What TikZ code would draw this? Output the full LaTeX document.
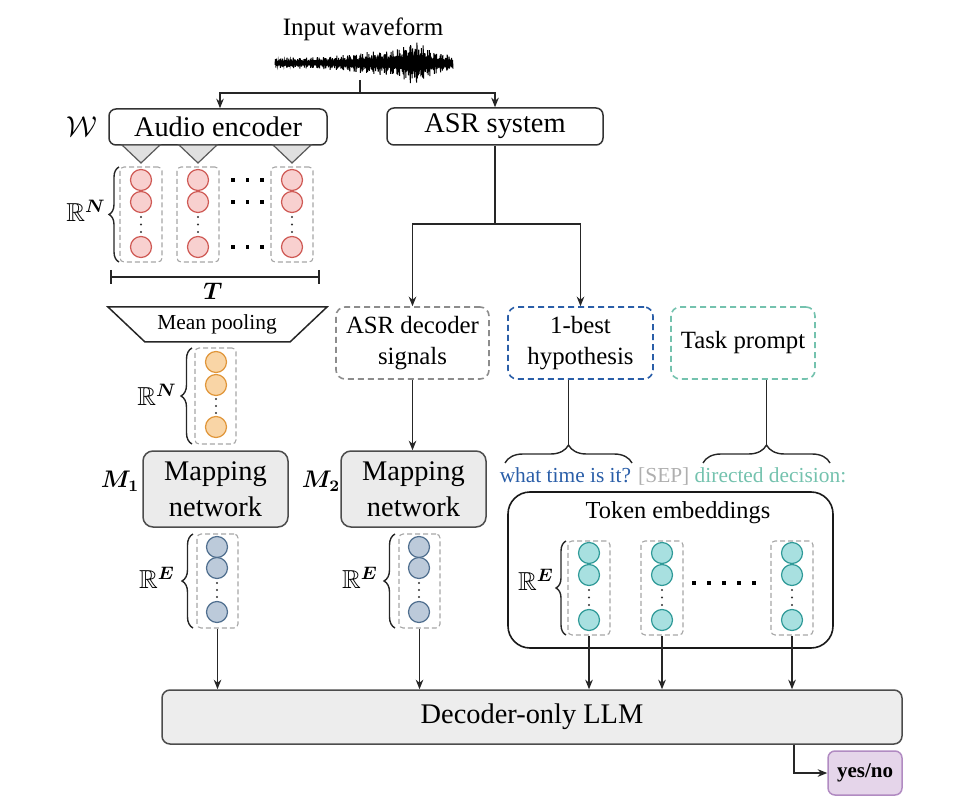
\documentclass[tikz,border=0pt]{standalone}
\usepackage{amsmath,amssymb}
\usepackage{fontspec}
\setmainfont{Liberation Serif}
\usetikzlibrary{arrows.meta,decorations.pathreplacing,fit,calc}
\definecolor{encD}{HTML}{CF5A55}
\definecolor{encF}{HTML}{F8D0CF}
\definecolor{orD}{HTML}{E0963A}
\definecolor{orF}{HTML}{F9D5A6}
\definecolor{blD}{HTML}{506F8F}
\definecolor{blF}{HTML}{BCCADA}
\definecolor{tlD}{HTML}{2F9A98}
\definecolor{tlF}{HTML}{A8E0E0}
\definecolor{hypblue}{HTML}{2A5EA8}
\definecolor{tealc}{HTML}{74C2AE}
\definecolor{sepgray}{HTML}{AFAFAF}
\definecolor{ynF}{HTML}{E5D5EA}
\definecolor{ynD}{HTML}{B18BC2}
\newcommand{\szA}{\fontsize{14.2}{18}\selectfont}
\newcommand{\szB}{\fontsize{12.4}{15.5}\selectfont}
\newcommand{\szIn}{\fontsize{12.5}{15}\selectfont}
\newcommand{\szD}{\fontsize{12.2}{15}\selectfont}
\newcommand{\szC}{\fontsize{10.7}{13}\selectfont}
\newcommand{\szE}{\fontsize{10.5}{13}\selectfont}
\newcommand{\szR}{\fontsize{13}{15}\selectfont}
\newcommand{\szM}{\fontsize{12}{14}\selectfont}
\newcommand{\szW}{\fontsize{15}{17}\selectfont}
\begin{document}
\begin{tikzpicture}[x=0.5pt,y=-0.5pt,
  conn/.style={draw=black!85,line width=0.7pt},
  arr/.style={conn,-{Stealth[length=4.8pt,width=3.8pt]}},
  plainbox/.style={draw=black!80,line width=0.75pt,rounded corners=3.5pt,inner sep=0pt,fill=white},
  mapbox/.style={draw=black!70,line width=0.75pt,rounded corners=5pt,fill=black!8,inner sep=0pt,align=center,minimum width=72.5pt,minimum height=38pt},
  dbox/.style={dash pattern=on 3pt off 2pt,line width=0.8pt,rounded corners=4.5pt,inner sep=0pt,align=center,minimum height=36pt},
  colbox/.style={draw=black!35,dash pattern=on 2.5pt off 1.5pt,line width=0.55pt,rounded corners=2pt,inner sep=0pt},
  cc/.style={circle,line width=0.6pt,minimum size=10.5pt,inner sep=0pt},
  encc/.style={cc,draw=encD,fill=encF},
  orc/.style={cc,draw=orD,fill=orF},
  blc/.style={cc,draw=blD,fill=blF},
  tlc/.style={cc,draw=tlD,fill=tlF},
  vdot/.style={circle,fill=black!80,inner sep=0pt,minimum size=1.1pt},
  hdot/.style={rectangle,fill=black,inner sep=0pt,minimum size=1.8pt},
  brc/.style={decorate,decoration={brace,amplitude=#1},conn},
  tri/.style={fill=black!12,draw=black!65,line width=0.6pt},
]
\useasboundingbox (0,0) rectangle (962,806);

% ---------- input waveform ----------
\node[font=\szIn] (inp) at (363,29) {Input waveform};
\draw[line width=0.5pt] plot[samples=401, domain=0:400, variable=\t]
  ({275+0.445*\t},{63 + (1-2*mod(round(\t),2))*(4.5 + 15/(1+((0.445*\t-140)/17)^2) + 5/(1+((0.445*\t-95)/30)^2))*(0.35+0.65*abs(sin(\t*37)*cos(\t*13)))});
\coordinate (wf) at (360,80);
\coordinate (sp1) at (360,93);

% ---------- top boxes ----------
\node[plainbox, minimum width=109pt, minimum height=18pt, font=\szA] (ae) at (218,127) {Audio encoder};
\node[plainbox, minimum width=108pt, minimum height=18.5pt, font=\szA] (asr) at (495,126.5) {ASR system};
\node[font=\szW] (wlab) at (82,127) {$\mathcal{W}$};

\draw[conn] (wf) -- (sp1);
\draw[arr] (sp1) -| ([xshift=1pt]ae.north);
\draw[arr] (sp1) -| (asr.north);

% ---------- encoder outputs ----------
\foreach \x [count=\i] in {141,198,292}{
  \draw[tri] (\x-19,145) -- (\x+19,145) -- (\x,163) -- cycle;
  \node[colbox, fit={(\x-21,167)(\x+21,262)}] (ec\i) {};
  \foreach \y [count=\j] in {180,202,247} \node[encc] (e\i\j) at (\x,\y) {};
  \foreach \y [count=\k] in {217,224.5,232} \node[vdot] (ev\i\k) at (\x,\y) {};
}
\foreach \y [count=\j] in {180,202,247}
  \foreach \x [count=\k] in {233,247.5,262} \node[hdot] (eh\j\k) at (\x,\y) {};
\draw[brc=5pt] (119,262) -- (119,167);
\node[font=\szR] (rn1) at (86,211) {$\mathbb{R}^{\boldsymbol{N}}$};

\coordinate (tl) at (111,277);
\coordinate (tr) at (319,277);
\draw[conn] (tl) -- (tr);
\draw[conn] ([yshift=3.5pt]tl) -- ([yshift=-3.5pt]tl);
\draw[conn] ([yshift=3.5pt]tr) -- ([yshift=-3.5pt]tr);
\node[font=\szM] (tlab) at (213,291) {$\boldsymbol{T}$};

% ---------- mean pooling ----------
\draw[conn,fill=white,line width=0.75pt] (108,307) -- (327,307) -- (290,342) -- (145,342) -- cycle;
\node[font=\szC] (mp) at (217,324) {Mean pooling};

\node[colbox, fit={(195,348)(236,444)}] (oc) {};
\foreach \y [count=\j] in {362,385,427} \node[orc] (o\j) at (216,\y) {};
\foreach \y [count=\k] in {399,406,413} \node[vdot] (ov\k) at (216,\y) {};
\draw[brc=5.5pt] (192,444) -- (192,348);
\node[font=\szR] (rn2) at (157,395) {$\mathbb{R}^{\boldsymbol{N}}$};

% ---------- mapping networks ----------
\node[mapbox, font=\szA] (map1) at (215.5,489) {Mapping\\network};
\node[mapbox, font=\szA] (map2) at (413.5,489) {Mapping\\network};
\node[font=\szM] (m1) at (120,481) {$\boldsymbol{M_1}$};
\node[font=\szM] (m2) at (321,481) {$\boldsymbol{M_2}$};

\foreach \x/\bx/\lx [count=\i] in {217/193/157,419/395/360}{
  \node[colbox, fit={(\x-20,534)(\x+21,628)}] (bc\i) {};
  \foreach \y [count=\j] in {547,568,612} \node[blc] (b\i\j) at (\x,\y) {};
  \foreach \y [count=\k] in {583,590,597} \node[vdot] (bv\i\k) at (\x,\y) {};
  \draw[brc=5.5pt] (\bx,628) -- (\bx,534);
  \node[font=\szR] (re\i) at (\lx,578) {$\mathbb{R}^{\boldsymbol{E}}$};
}

% ---------- ASR outputs ----------
\node[dbox, draw=black!45, minimum width=76.5pt, font=\szB] (dec) at (412.5,343) {ASR decoder\\signals};
\node[dbox, draw=hypblue, minimum width=72.5pt, font=\szB] (best) at (580.5,343) {1-best\\hypothesis};
\node[dbox, draw=tealc, minimum width=72pt, font=\szB] (task) at (743,343) {Task prompt};

\coordinate (sp2) at (495,224);
\draw[conn] (asr.south) -- (sp2);
\draw[arr] (sp2) -| (dec.north);
\draw[arr] (sp2) -| (best.north);
\draw[arr] (dec.south) -- (dec.south |- map2.north);

\coordinate (b1tip) at (568.5,445);
\coordinate (b2tip) at (766.5,445);
\draw[brc=9pt] (505,463) -- (632,463);
\draw[brc=9pt] (703,463) -- (830,463);
\draw[conn] (b1tip) -- (b1tip |- best.south);
\draw[conn] (b2tip) -- (b2tip |- task.south);

\node[font=\szC] (toks) at (673,477) {\textcolor{hypblue}{what time is it?} \textcolor{sepgray}{[SEP]} \textcolor{tealc}{directed decision:}};

% ---------- token embeddings ----------
\node[draw=black!90, line width=0.8pt, rounded corners=11pt, inner sep=0pt, fit={(508,492)(833,648)}] (tokbox) {};
\node[font=\szD] (toklab) at (678,513) {Token embeddings};
\foreach \x [count=\i] in {589,662,792}{
  \node[colbox, fit={(\x-21,541)(\x+21,635)}] (tc\i) {};
  \foreach \y [count=\j] in {553,575,620} \node[tlc] (t\i\j) at (\x,\y) {};
  \foreach \y [count=\k] in {590,597.5,605} \node[vdot] (tv\i\k) at (\x,\y) {};
}
\foreach \x [count=\k] in {694,709,724,739,754} \node[hdot] (th\k) at (\x,583) {};
\draw[brc=5pt] (566,635) -- (566,541);
\node[font=\szR] (re3) at (536,580) {$\mathbb{R}^{\boldsymbol{E}}$};

% ---------- LLM ----------
\node[draw=black!70, fill=black!7, line width=0.75pt, rounded corners=4pt, inner sep=0pt, minimum width=370pt, minimum height=27pt, font=\szA] (llm) at (532,717) {Decoder-only LLM};
\foreach \c in {bc1,bc2,tc1,tc2,tc3} \draw[arr] (\c.south) -- (\c.south |- llm.north);

\node[fill=ynF, draw=ynD, line width=0.75pt, rounded corners=3.5pt, inner sep=0pt, minimum width=37pt, minimum height=22pt, font=\szE\bfseries] (yn) at (865,773) {yes/no};
\coordinate (yo) at (794,0);
\draw[arr] (llm.south -| yo) |- (yn.west);
\end{tikzpicture}
\end{document}
